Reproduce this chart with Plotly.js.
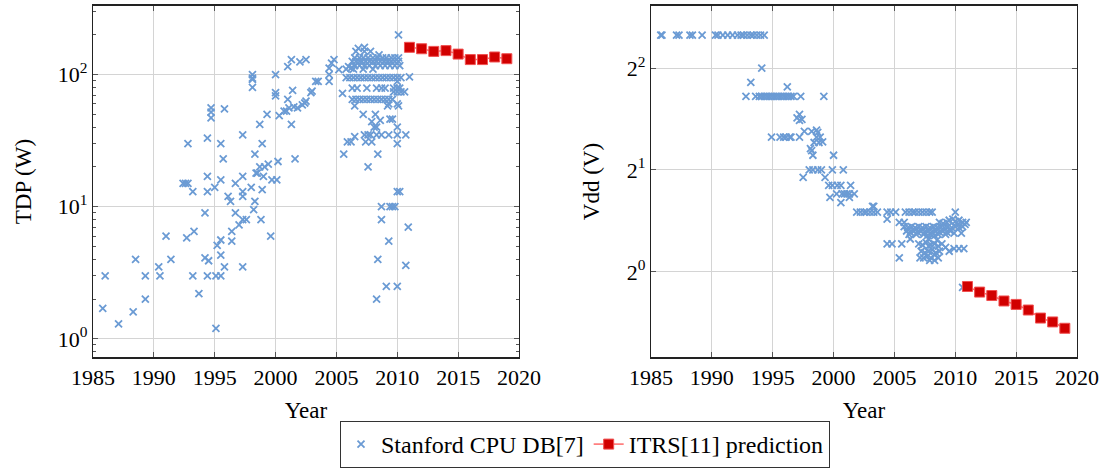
<!DOCTYPE html>
<html>
<head>
<meta charset="utf-8">
<script src="https://cdn.plot.ly/plotly-3.0.1.min.js"></script>
<style>html,body{margin:0;padding:0;background:#fff;}#chart{width:1104px;height:468px;}</style>
</head>
<body>
<div id="chart"></div>
<script>
// ---- Left panel: TDP (W) from Stanford CPU DB ----
const tdpYears = [
1985.8,1986.0,1987.1,1988.3,1988.5,1989.3,1989.3,1990.4,1990.5,1991.0,1991.4,1992.4,1992.6,1992.8,1992.7,1992.8,
1993.2,1993.3,1993.2,1993.7,1994.2,1994.2,1994.5,1994.4,1994.4,1994.4,1994.4,1994.7,1994.7,1994.7,1995.0,1995.1,
1995.5,1995.1,1995.2,1995.5,1995.5,1995.8,1995.5,1995.5,1995.7,1995.8,1996.1,1996.3,1996.4,1996.4,1996.7,1996.7,
1997.0,1997.3,1997.3,1997.3,1997.3,1997.6,1997.3,1997.3,1998.0,1998.2,1998.3,1998.5,1999.0,1998.8,1998.9,1999.6,
1999.7,2000.1,1998.1,1998.1,1998.1,1998.1,1998.4,1998.7,1999.1,1999.4,1998.9,1998.7,1998.3,1999.3,2000.0,2000.0,
2000.0,2000.2,2000.3,2000.7,2000.9,2001.0,2001.4,2001.3,2001.6,2001.1,2001.5,2001.8,2002.2,2002.4,2002.5,2001.0,
2001.3,2002.0,2002.5,2002.9,2003.0,2003.3,2003.5,2004.4,2004.4,2004.4,2004.6,2004.8,2005.2,2005.5,2005.6,2006.0,
2006.2,
2006.6,2007.3,2007.3,2007.8,2008.5,2006.8,
2006.5,2006.9,2007.2,2007.6,2008.0,2008.4,2008.8,2009.1,2009.5,2009.8,2010.1,
2006.3,2006.6,2006.9,2007.1,2007.4,2007.7,2008.0,2008.3,2008.6,2008.9,2009.2,2009.5,2009.8,2010.1,
2006.5,2006.9,2007.3,2007.7,2008.2,2008.6,2009.0,2009.4,2009.8,2010.2,
2005.8,2006.4,2007.2,2008.0,
2005.8,2006.1,2006.4,2006.7,2007.0,2007.3,2007.6,2007.9,2008.2,2008.5,2008.8,2009.1,2009.4,2009.7,2010.0,2010.3,2011.0,
2010.0,
2006.3,2006.7,2007.5,2008.3,2008.7,2009.0,2009.7,2010.0,2010.2,
2009.7,2010.0,2010.3,2010.6,
2006.3,2006.6,2006.9,2007.2,2007.5,2007.8,2008.1,2008.4,2008.7,2009.0,2009.3,2009.6,
2009.3,2010.0,2006.5,2009.2,2010.1,
2007.2,2008.2,2007.9,2008.1,2008.3,2008.6,2009.4,2009.6,2010.0,
2007.3,2007.6,2007.8,2008.3,2008.7,2009.3,2010.0,2010.7,
2005.9,2006.2,2006.5,2007.4,2007.9,2010.0,
2008.4,2007.6,2010.0,2010.2,2008.7,2009.4,2009.6,2009.8,2008.7,2010.9,2009.3,2008.4,2010.7,2009.1,2010.0,2008.3,
2010.1
];
const tdpValues = [
1.7,3.0,1.3,1.6,4.0,3.0,2.0,3.5,3.0,6.0,4.0,15,15,15,5.8,30,
13,6.5,3.0,2.2,9,4.1,3.9,3.0,17,13,33,56,52,47,14,3,
3,1.2,5.1,5.6,4.3,3.5,16,30,23,55,12,11,6.5,5.5,15,9,
7.3,17,13,12,8,8,3.5,35,14,9.5,11,18,17,8,13.5,6,
16,16,100,94,92,80,18,20,20,21,30,42,25,50,100,73,
69,22,49,53,53,65,76,42,23,56,57,56,59,61,63,115,
130,125,130,73,75,89,89,89,100,112,122,130,109,72,25,115,
112,
150,161,150,150,141,158,
134,134,134,134,134,134,134,134,134,134,134,
126,126,126,126,126,126,126,126,126,126,126,126,126,126,
117,117,117,117,117,117,117,117,117,117,
110,110,110,110,
95,95,95,95,95,95,95,95,95,95,95,95,95,95,95,95,96,
89,
79,79,79,79,79,79,79,79,79,
74,74,74,74,
65,65,65,65,65,65,65,65,65,65,65,65,
60,60,58,58,58,
50,50,44,40,40,45,46,46,40,
35,35,35,35,35,35,35,35,
31,31,34,31,31,30,
25,20,13,13,10,10,10,10,8,7,5.5,4,3.6,2.5,2.5,2,
200
];

// ---- Right panel: Vdd (V) from Stanford CPU DB ----
const vddYears = [
1985.8,1985.9,1987.1,1987.3,1988.2,1988.4,1989.2,1990.3,1990.5,1990.9,1991.3,1991.7,1992.1,1992.4,1992.6,1992.9,1993.2,1993.4,1993.7,1994.0,1994.3,
1994.1,1993.2,1996.2,
1992.8,1993.6,1993.9,1994.1,1994.3,1994.5,1994.7,1994.9,1995.1,1995.3,1995.5,1995.7,1995.9,1996.1,1996.3,1996.5,1996.7,1997.3,1999.2,
1997.0,1997.2,1997.2,1997.4,
1994.9,1995.6,1995.9,1996.1,1996.4,1996.5,1997.2,
1997.6,1998.2,1998.6,1998.7,1998.6,1998.9,1999.1,1998.4,1998.8,
1998.1,1998.2,1998.3,2000.0,
1998.0,1998.3,1998.7,1999.0,1999.9,2000.8,
1997.5,1999.3,
1999.6,1999.9,2000.3,2000.6,2001.4,
2000.25,2000.7,2000.9,2001.1,2001.3,2001.7,
1999.7,2001.3,2000.6,2003.3,2003.2,
2001.9,2002.2,2002.5,2002.7,2003.0,2003.3,2003.6,2004.4,2004.7,2005.1,2005.9,2006.2,2006.5,2006.7,2007.0,2007.3,2007.6,2007.9,2008.1,2010.0,
2004.4,2005.4,2005.8,
2009.5,2009.8,2010.0,2010.3,2010.6,2010.9,2009.3,2009.0,2008.7,2010.8,2010.2,
2005.8,2006.1,2006.4,2006.7,2007.0,2007.3,2007.6,2007.9,2008.2,2008.5,2008.8,2009.1,2009.4,2009.7,2010.0,2010.3,2010.6,
2006.0,2006.3,2006.6,2006.9,2007.2,2007.5,2007.8,2008.1,2008.4,2008.7,2009.0,2009.3,2009.6,
2006.2,2006.8,2007.4,2007.7,2008.0,2008.3,2008.6,2009.2,2009.9,2010.5,
2007.0,2007.3,2007.6,2007.8,2008.0,2008.3,2008.6,2008.9,2007.2,2007.5,2007.8,2008.1,2008.4,2008.7,2007.1,2007.4,
2007.7,2008.0,2008.3,2008.6,2007.9,2008.3,2008.5,2007.8,2009.2,2009.5,
2006.3,2004.4,2004.8,2005.6,2005.4,2009.9,2010.3,2010.7,2010.6
];
const vddValues = [
5,5,5,5,5,5,5,5,5,5,5,5,5,5,5,5,5,5,5,5,5,
4.0,3.63,3.52,
3.3,3.3,3.3,3.3,3.3,3.3,3.3,3.3,3.3,3.3,3.3,3.3,3.3,3.3,3.3,3.3,3.3,3.3,3.3,
2.85,2.92,2.8,2.82,
2.5,2.5,2.5,2.5,2.5,2.5,2.5,
2.6,2.6,2.62,2.58,2.5,2.5,2.42,2.41,2.41,
2.31,2.28,2.21,2.21,
2.0,2.0,2.0,2.0,2.0,2.0,
1.9,1.9,
1.8,1.8,1.8,1.8,1.8,
1.7,1.7,1.7,1.7,1.7,1.7,
1.66,1.66,1.6,1.56,1.56,
1.5,1.5,1.5,1.5,1.5,1.5,1.5,1.5,1.5,1.5,1.5,1.5,1.5,1.5,1.5,1.5,1.5,1.5,1.5,1.5,
1.43,1.4,1.4,
1.42,1.43,1.41,1.42,1.40,1.40,1.40,1.39,1.40,1.38,1.38,
1.36,1.35,1.36,1.35,1.36,1.35,1.36,1.35,1.36,1.35,1.36,1.35,1.36,1.35,1.36,1.35,1.36,
1.32,1.31,1.32,1.31,1.32,1.31,1.32,1.31,1.32,1.31,1.32,1.31,1.32,
1.29,1.29,1.29,1.28,1.29,1.28,1.29,1.29,1.30,1.30,
1.21,1.2,1.22,1.19,1.2,1.21,1.19,1.21,1.15,1.14,1.15,1.16,1.14,1.15,1.1,1.1,
1.11,1.1,1.12,1.1,1.08,1.08,1.24,1.25,1.18,1.15,
1.25,1.21,1.21,1.21,1.1,1.17,1.17,1.17,0.9
];

// ---- ITRS predictions ----
const itrsYears = [2011,2012,2013,2014,2015,2016,2017,2018,2019];
const itrsTdp = [161,157,150,152,143,130,130,136,132];
const itrsVdd = [0.905,0.871,0.851,0.820,0.801,0.771,0.730,0.711,0.681];

// ---- Tick labels ----
const xTicks = [1985,1990,1995,2000,2005,2010,2015,2020];
const tdpTickVals = [1,10,100];
const tdpTickText = ['10<sup>0</sup>','10<sup>1</sup>','10<sup>2</sup>'];
const tdpMinorVals = [0.8,0.9,2,3,4,5,6,7,8,9,20,30,40,50,60,70,80,90,200,300];
const vddTickVals = [1,2,4];
const vddTickText = ['2<sup>0</sup>','2<sup>1</sup>','2<sup>2</sup>'];

const FONT = 'Liberation Serif, DejaVu Serif, serif';
const BLUE = '#6b9bd4';
const RED = '#d10000';

const xMarker = {symbol:'x-thin', size:7, color:BLUE, line:{color:BLUE, width:1.8}};
const sqMarker = {symbol:'square', size:10, color:RED, line:{color:'#f05050', width:1}};
const itrsLine = {color:'#ff6a6a', width:1.5};

const traces = [
  {x:tdpYears, y:tdpValues, xaxis:'x', yaxis:'y', type:'scatter', mode:'markers', marker:xMarker, name:'Stanford CPU DB[7]', showlegend:true},
  {x:itrsYears, y:itrsTdp, xaxis:'x', yaxis:'y', type:'scatter', mode:'lines+markers', marker:sqMarker, line:itrsLine, name:'ITRS[11] prediction', showlegend:true},
  {x:vddYears, y:vddValues, xaxis:'x2', yaxis:'y2', type:'scatter', mode:'markers', marker:xMarker, name:'Stanford CPU DB[7]', showlegend:false},
  {x:itrsYears, y:itrsVdd, xaxis:'x2', yaxis:'y2', type:'scatter', mode:'lines+markers', marker:sqMarker, line:itrsLine, name:'ITRS[11] prediction', showlegend:false}
];

const TICKFONT = {family:FONT, size:22, color:'#000'};
const TITLEFONT = {family:FONT, size:23, color:'#000'};

function xAxis(domain, anchor){
  return {
    domain:domain, anchor:anchor, range:[1985,2020],
    tickmode:'array', tickvals:xTicks, ticks:'inside', ticklen:5, tickwidth:1, tickcolor:'#555',
    showline:true, linecolor:'#222', linewidth:1.2, mirror:'ticks',
    showgrid:true, gridcolor:'#d4d4d4', gridwidth:1, zeroline:false,
    tickfont:TICKFONT,
    title:{text:'Year', font:TITLEFONT, standoff:12}
  };
}

const layout = {
  width:1104, height:468,
  margin:{l:0, r:0, t:0, b:0},
  paper_bgcolor:'#fff', plot_bgcolor:'#fff',
  font:{family:FONT, color:'#000'},
  xaxis: xAxis([93/1104, 519/1104], 'y'),
  xaxis2: xAxis([651/1104, 1077/1104], 'y2'),
  yaxis: {
    domain:[1-359/468, 1-5.7/468], anchor:'x', type:'log', range:[-0.141, 2.522],
    tickmode:'array', tickvals:tdpTickVals, ticktext:tdpTickText,
    ticks:'inside', ticklen:5, tickwidth:1, tickcolor:'#555',
    minor:{tickmode:'array', tickvals:tdpMinorVals, ticks:'inside', ticklen:3, tickwidth:1, tickcolor:'#555', showgrid:false},
    showline:true, linecolor:'#222', linewidth:1.2, mirror:'ticks',
    showgrid:true, gridcolor:'#d4d4d4', gridwidth:1, zeroline:false,
    tickfont:TICKFONT,
    title:{text:'TDP (W)', font:TITLEFONT, standoff:19}
  },
  yaxis2: {
    domain:[1-359/468, 1-5.7/468], anchor:'x2', type:'log', range:[-0.2531, 0.7863],
    tickmode:'array', tickvals:vddTickVals, ticktext:vddTickText,
    ticks:'inside', ticklen:5, tickwidth:1, tickcolor:'#555',
    showline:true, linecolor:'#222', linewidth:1.2, mirror:'ticks',
    showgrid:true, gridcolor:'#d4d4d4', gridwidth:1, zeroline:false,
    tickfont:TICKFONT,
    title:{text:'Vdd (V)', font:TITLEFONT, standoff:20}
  },
  showlegend:true,
  legend:{
    orientation:'h', x:585/1104, xanchor:'center', y:(468-423)/468, yanchor:'top',
    bordercolor:'#333', borderwidth:1, bgcolor:'#fff',
    font:{family:FONT, size:24, color:'#000'},
    itemwidth:30, tracegroupgap:0, itemclick:false
  }
};

Plotly.newPlot('chart', traces, layout, {staticPlot:true, displayModeBar:false});
</script>
</body>
</html>
